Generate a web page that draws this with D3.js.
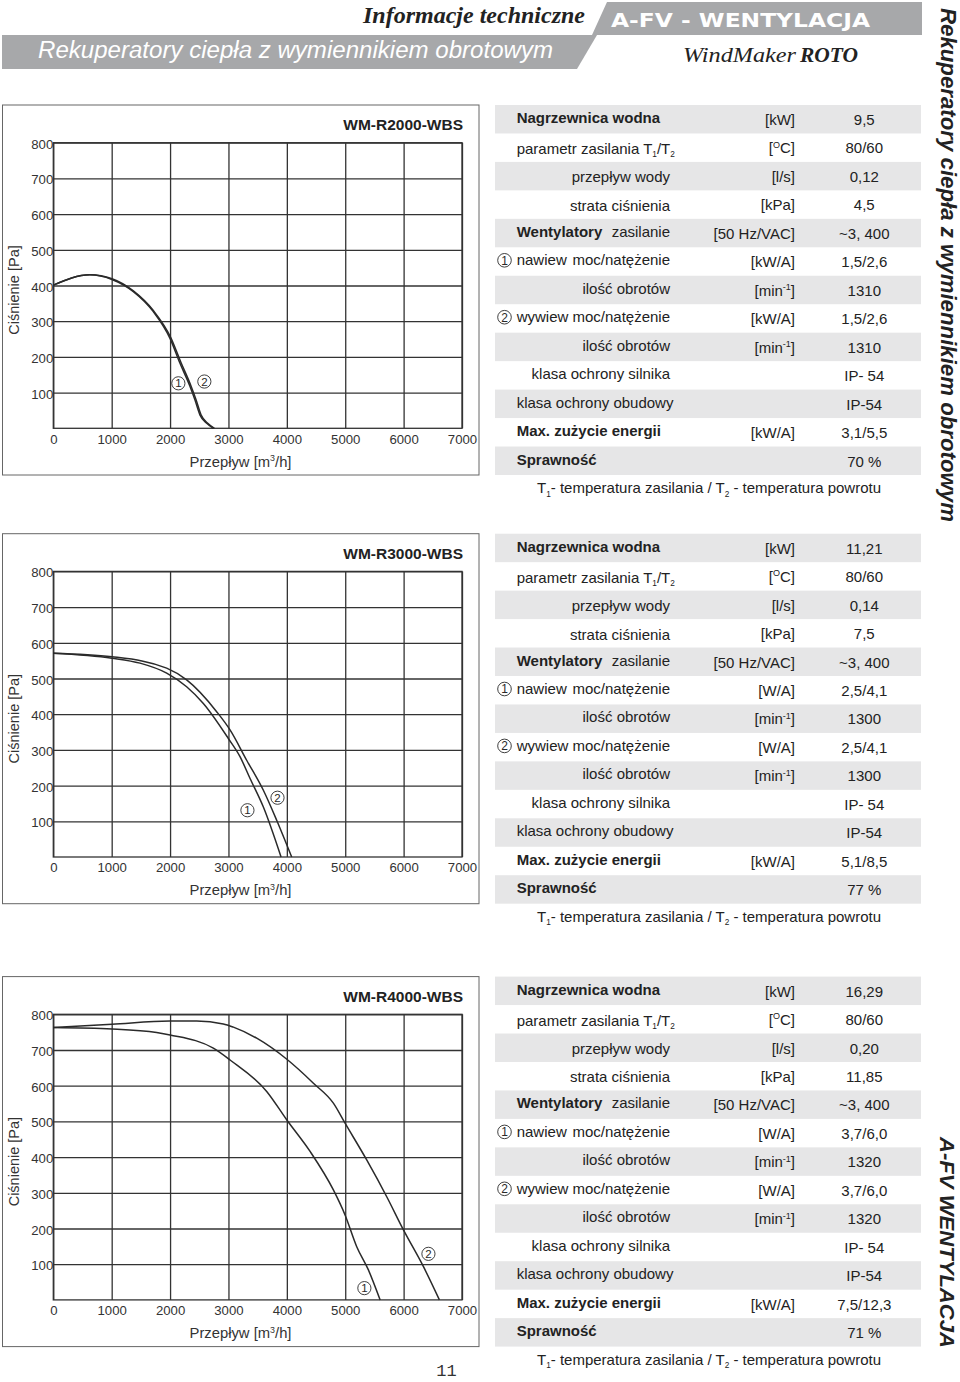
<!DOCTYPE html>
<html><head><meta charset="utf-8">
<script src="https://cdn.jsdelivr.net/npm/d3@7"></script>
<style>
body{margin:0;background:#fff}
svg{display:block}
text{font-family:"Liberation Sans",Arial,sans-serif}
</style></head>
<body><svg id="page" width="960" height="1382"></svg>
<script>
// ---------- DATA ----------
const models = ["WM-R2000-WBS", "WM-R3000-WBS", "WM-R4000-WBS"];
const xTicks = [0, 1000, 2000, 3000, 4000, 5000, 6000, 7000];
const yTicks = [100, 200, 300, 400, 500, 600, 700, 800];

// curve points [flow m3/h, pressure Pa]
const r2000Supply = [[0,401],[628,430],[1005,417],[1371,383],[1713,327],[1999,252],[2170,182],[2342,117],[2427,79],[2513,37],[2627,14],[2741,0]];
const r2000Exhaust = [[0,401],[628,430],[1005,419],[1371,385],[1713,330],[2010,255],[2185,185],[2360,118],[2445,80],[2530,38],[2645,14],[2760,0]];
const r3000Supply = [[0,571],[1005,557],[1485,543],[1942,515],[2284,477],[2570,430],[2998,332],[3198,281],[3370,220],[3598,140],[3901,0]];
const r3000Exhaust = [[0,571],[1005,561],[1942,529],[2284,496],[2798,407],[3027,356],[3312,271],[3598,187],[3826,103],[4083,0]];
const r4000Supply = [[0,763],[1005,759],[1770,749],[2000,742],[2741,705],[3027,672],[3655,584],[4000,504],[4398,416],[4797,308],[4997,238],[5197,149],[5397,84],[5597,0]];
const r4000Exhaust = [[0,763],[1005,772],[2000,781],[2456,781],[2912,773],[3085,764],[3484,733],[4000,674],[4455,607],[4797,551],[4997,495],[5368,392],[5711,289],[5997,196],[6340,93],[6613,0]];
const curveSets = [[r2000Supply, r2000Exhaust],[r3000Supply, r3000Exhaust],[r4000Supply, r4000Exhaust]];
// marker positions for curve labels (1) and (2)
const markers = [
  [[2142,126],[2587,131]],
  [[3325,131],[3840,166]],
  [[5328,33],[6425,129]]
];

const rowLeft = ["Nagrzewnica wodna","parametr zasilania T_{1}/T_{2}","","","Wentylatory","nawiew","","wywiew","","","klasa ochrony obudowy","Max. zużycie energii","Sprawność"];
const rowRight = ["","","przepływ wody","strata ciśnienia","zasilanie","moc/natężenie","ilość obrotów","moc/natężenie","ilość obrotów","klasa ochrony silnika","","",""];
const rowMarker = [0,0,0,0,0,1,0,2,0,0,0,0,0];
const boldRows = [0,4,11,12];

const units2000 = ["[kW]","[^{O}C]","[l/s]","[kPa]","[50 Hz/VAC]","[kW/A]","[min^{-1}]","[kW/A]","[min^{-1}]","","","[kW/A]",""];
const units3000 = ["[kW]","[^{O}C]","[l/s]","[kPa]","[50 Hz/VAC]","[W/A]","[min^{-1}]","[W/A]","[min^{-1}]","","","[kW/A]",""];
const units4000 = ["[kW]","[^{O}C]","[l/s]","[kPa]","[50 Hz/VAC]","[W/A]","[min^{-1}]","[W/A]","[min^{-1}]","","","[kW/A]",""];
const values2000 = ["9,5","80/60","0,12","4,5","~3, 400","1,5/2,6","1310","1,5/2,6","1310","IP- 54","IP-54","3,1/5,5","70 %"];
const values3000 = ["11,21","80/60","0,14","7,5","~3, 400","2,5/4,1","1300","2,5/4,1","1300","IP- 54","IP-54","5,1/8,5","77 %"];
const values4000 = ["16,29","80/60","0,20","11,85","~3, 400","3,7/6,0","1320","3,7/6,0","1320","IP- 54","IP-54","7,5/12,3","71 %"];
const unitSets = [units2000, units3000, units4000];
const valueSets = [values2000, values3000, values4000];

const footnote = "T_{1}- temperatura zasilania / T_{2} - temperatura powrotu";

// ---------- DRAW ----------
const svg = d3.select("#page");
const ink = "#2a2a2a";
const band = "#a7a8aa";
const stripe = "#e6e6e7";

function rich(t, s, size) {
  const parts = s.split(/(\^\{[^}]*\}|_\{[^}]*\})/);
  let cur = 0;
  parts.forEach(p => {
    if (!p) return;
    let target = 0, fs = size, txt = p;
    if (p.startsWith("^{")) { target = -0.38 * size; fs = 0.6 * size; txt = p.slice(2, -1); }
    else if (p.startsWith("_{")) { target = 0.22 * size; fs = 0.55 * size; txt = p.slice(2, -1); }
    t.append("tspan").attr("dy", target - cur).attr("font-size", fs).text(txt);
    cur = target;
  });
  return t;
}

// Header
svg.append("polygon").attr("points", "2,35 597,35 577,69 2,69").attr("fill", band);
svg.append("polygon").attr("points", "607,2 922,2 922,35 592,35").attr("fill", band);
svg.append("text").attr("x", 38).attr("y", 58).attr("fill", "#fff")
  .attr("font-size", 23.5).attr("font-style", "italic")
  .attr("textLength", 515).attr("lengthAdjust", "spacingAndGlyphs")
  .text("Rekuperatory ciepła z wymiennikiem obrotowym");
svg.append("text").attr("x", 363).attr("y", 23).attr("fill", "#222")
  .style("font-family", "'Liberation Serif','Times New Roman',serif")
  .attr("font-size", 23).attr("font-style", "italic").attr("font-weight", "bold")
  .attr("textLength", 222).attr("lengthAdjust", "spacingAndGlyphs")
  .text("Informacje techniczne");
svg.append("text").attr("x", 611).attr("y", 27).attr("fill", "#fff")
  .style("font-family", "'DejaVu Sans',Verdana,sans-serif")
  .attr("font-size", 19).attr("font-weight", "bold")
  .attr("textLength", 259).attr("lengthAdjust", "spacingAndGlyphs")
  .text("A-FV  - WENTYLACJA");
svg.append("text").attr("x", 683).attr("y", 62).attr("fill", "#222")
  .style("font-family", "'Liberation Serif','Times New Roman',serif")
  .attr("font-size", 20).attr("font-style", "italic")
  .attr("textLength", 113).attr("lengthAdjust", "spacingAndGlyphs")
  .text("WindMaker");
svg.append("text").attr("x", 800).attr("y", 62).attr("fill", "#222")
  .style("font-family", "'Liberation Serif','Times New Roman',serif")
  .attr("font-size", 20).attr("font-style", "italic").attr("font-weight", "bold")
  .attr("textLength", 58).attr("lengthAdjust", "spacingAndGlyphs")
  .text("ROTO");

// Vertical side texts
svg.append("text").attr("transform", "translate(941,8) rotate(90)")
  .attr("fill", "#222").attr("font-size", 22).attr("font-style", "italic").attr("font-weight", "bold")
  .attr("textLength", 514).attr("lengthAdjust", "spacingAndGlyphs")
  .text("Rekuperatory ciepła z wymiennikiem obrotowym");
svg.append("text").attr("transform", "translate(940,1137) rotate(90)")
  .attr("fill", "#222").attr("font-size", 21).attr("font-style", "italic").attr("font-weight", "bold")
  .attr("textLength", 211).attr("lengthAdjust", "spacingAndGlyphs")
  .text("A-FV WENTYLACJA");

// page number
svg.append("text").attr("x", 446.5).attr("y", 1376).attr("text-anchor", "middle")
  .style("font-family", "'Liberation Mono','Courier New',monospace")
  .attr("font-size", 17).attr("fill", "#333").text("11");

const offsets = [0, 428.7, 871.6];

function marker(g, cx, cy, n, r, fs) {
  g.append("circle").attr("cx", cx).attr("cy", cy).attr("r", r)
    .attr("fill", "none").attr("stroke", ink).attr("stroke-width", 0.9);
  g.append("text").attr("x", cx).attr("y", cy + fs * 0.36).attr("text-anchor", "middle")
    .attr("font-size", fs).attr("fill", ink).text(n);
}

models.forEach((name, i) => {
  const oy = offsets[i];
  const g = svg.append("g");
  // frame
  g.append("rect").attr("x", 2.5).attr("y", 105 + oy).attr("width", 476.5).attr("height", 370)
    .attr("fill", "none").attr("stroke", "#666").attr("stroke-width", 1);

  const x = d3.scaleLinear().domain([0, 7000]).range([53.3, 462]);
  const y = d3.scaleLinear().domain([0, 800]).range([428.3 + oy, 142.7 + oy]);
  const ph = y(0) - y(800), pw = x(7000) - x(0);

  // x axis with vertical grid
  const xa = g.append("g").attr("transform", `translate(0,${y(0)})`)
    .call(d3.axisBottom(x).tickValues(xTicks).tickSize(-ph).tickPadding(6).tickFormat(d3.format("d")));
  // y axis with horizontal grid
  const ya = g.append("g").attr("transform", `translate(${x(0)},0)`)
    .call(d3.axisLeft(y).tickValues(yTicks).tickSize(-pw).tickPadding(0).tickFormat(d3.format("d")));
  [xa, ya].forEach(a => {
    a.select(".domain").remove();
    a.selectAll("line").attr("stroke", "#333").attr("stroke-width", 1.3);
    a.selectAll("text").attr("font-size", 13.2).attr("fill", "#333")
      .style("font-family", "'Liberation Sans',Arial,sans-serif");
  });
  ya.selectAll("text").attr("dy", "0.42em");
  g.append("rect").attr("x", x(0)).attr("y", y(800)).attr("width", pw).attr("height", ph)
    .attr("fill", "none").attr("stroke", "#333").attr("stroke-width", 1.3);

  // title
  g.append("text").attr("x", 463).attr("y", 130 + oy).attr("text-anchor", "end")
    .attr("font-size", 15.5).attr("font-weight", "bold").attr("fill", "#222").text(name);
  // axis titles
  g.append("text").attr("transform", `translate(19,${290 + oy}) rotate(-90)`).attr("text-anchor", "middle")
    .attr("font-size", 14.5).attr("fill", "#333").text("Ciśnienie [Pa]");
  rich(g.append("text").attr("x", 240.5).attr("y", 466.7 + oy).attr("text-anchor", "middle")
    .attr("font-size", 14.8).attr("fill", "#333"), "Przepływ [m^{3}/h]", 14.8);

  // curves
  const line = d3.line().x(d => x(d[0])).y(d => y(d[1])).curve(d3.curveMonotoneX);
  curveSets[i].forEach(c => {
    g.append("path").attr("d", line(c)).attr("fill", "none")
      .attr("stroke", ink).attr("stroke-width", 1.5);
  });
  markers[i].forEach((m, k) => marker(g, x(m[0]), y(m[1]), String(k + 1), 6.6, 11.5));

  // table
  const rowH = 28.46, top0 = 105 + oy;
  const units = unitSets[i], vals = valueSets[i];
  d3.range(13).forEach(r => {
    const top = top0 + r * rowH;
    if (r % 2 === 0) g.append("rect").attr("x", 495).attr("y", top).attr("width", 426).attr("height", rowH)
      .attr("fill", stripe);
    const lb = top + ((r >= 1 && r <= 3) ? 20.5 : 18);
    if (rowLeft[r]) rich(g.append("text").attr("x", 516.7).attr("y", lb).attr("font-size", 15)
      .attr("font-weight", boldRows.includes(r) ? "bold" : "normal").attr("fill", "#222"), rowLeft[r], 15);
    if (rowRight[r]) g.append("text").attr("x", 670).attr("y", lb).attr("text-anchor", "end")
      .attr("font-size", 15).attr("fill", "#222").text(rowRight[r]);
    if (rowMarker[r]) marker(g, 504.5, lb - 5, String(rowMarker[r]), 6.8, 12);
    if (units[r]) rich(g.append("text").attr("x", 795).attr("y", top + 20).attr("text-anchor", "end")
      .attr("font-size", 15).attr("fill", "#222"), units[r], 15);
    g.append("text").attr("x", 864.3).attr("y", top + 20).attr("text-anchor", "middle")
      .attr("font-size", 15).attr("fill", "#222").text(vals[r]);
  });
  rich(g.append("text").attr("x", 709).attr("y", 493.3 + oy).attr("text-anchor", "middle")
    .attr("font-size", 15).attr("fill", "#222"), footnote, 15);
});
</script></body></html>
